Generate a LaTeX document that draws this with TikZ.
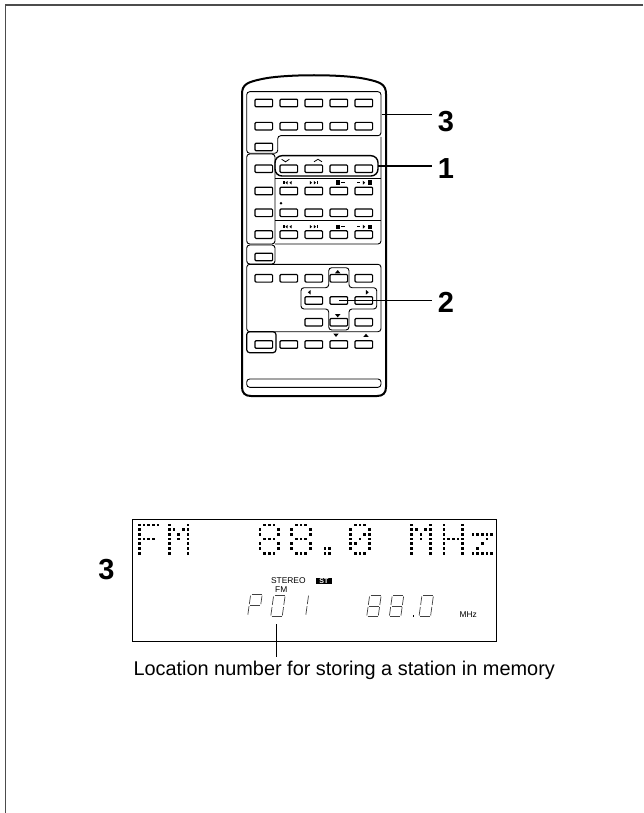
\documentclass[tikz,border=0pt]{standalone}
\usepackage{fontspec}
\setmainfont{Liberation Sans}
\usetikzlibrary{positioning}

\newcommand{\glyphF}{0/{0,1,2,3,4},1/{0},2/{0},3/{0,1,2,3},4/{0},5/{0},6/{0}}
\newcommand{\glyphM}{0/{0,4},1/{0,1,3,4},2/{0,2,4},3/{0,2,4},4/{0,4},5/{0,4},6/{0,4}}
\newcommand{\glyphE}{0/{1,2,3},1/{0,4},2/{0,4},3/{1,2,3},4/{0,4},5/{0,4},6/{1,2,3}}
\newcommand{\glyphO}{0/{1,2,3},1/{0,4},2/{0,3,4},3/{0,2,4},4/{0,1,4},5/{0,4},6/{1,2,3}}
\newcommand{\glyphH}{0/{0,4},1/{0,4},2/{0,4},3/{0,1,2,3,4},4/{0,4},5/{0,4},6/{0,4}}
\newcommand{\glyphZ}{2/{0,1,2,3,4},3/{3},4/{2},5/{1},6/{0,1,2,3,4}}
\newcommand{\glyphP}{5/{0,1},6/{0,1}}
\newcommand{\dotglyph}[2]{
    \foreach \r/\cs in #2 {
        \foreach \c in \cs {
            \fill ({#1+4.7*\c-1.35},{525+4.7*\r-1.35}) rectangle +(2.7,2.7);
        }
    }
}
\newcommand{\segchar}[3]{
    \begin{scope}[shift={(#1,#2)},xslant=0.14,segline]
        \foreach \s in {#3} {\draw \s;}
    \end{scope}
}
\newcommand{\segA}{(1,-21) -- (11,-21)}
\newcommand{\segB}{(11.5,-20) -- (11.5,-11.5)}
\newcommand{\segC}{(11.5,-9.5) -- (11.5,-1)}
\newcommand{\segD}{(1,0) -- (11,0)}
\newcommand{\segE}{(0,-9.5) -- (0,-1)}
\newcommand{\segF}{(0,-20) -- (0,-11.5)}
\newcommand{\segG}{(1,-10.5) -- (11,-10.5)}
\newcommand{\triup}[3]{\fill (#1,#2-#3*0.6) -- (#1+#3,#2+#3*0.6) -- (#1-#3,#2+#3*0.6) -- cycle;}
\newcommand{\tridown}[3]{\fill (#1,#2+#3*0.6) -- (#1+#3,#2-#3*0.6) -- (#1-#3,#2-#3*0.6) -- cycle;}
\newcommand{\trileft}[3]{\fill (#1-#3*0.6,#2) -- (#1+#3*0.6,#2-#3) -- (#1+#3*0.6,#2+#3) -- cycle;}
\newcommand{\triright}[3]{\fill (#1+#3*0.6,#2) -- (#1-#3*0.6,#2-#3) -- (#1-#3*0.6,#2+#3) -- cycle;}
\newcommand{\transport}[1]{
    \fill (283.3,#1-1.7) rectangle +(1.2,3.4);
    \trileft{286.5}{#1}{1.7} \trileft{290.5}{#1}{1.7}
    \triright{311}{#1}{1.7} \triright{315}{#1}{1.7}
    \fill (317,#1-1.7) rectangle +(1.2,3.4);
    \fill (336,#1-2.2) rectangle +(4.4,4.4);
    \draw[line width=0.8] (341,#1) -- (345,#1);
    \draw[line width=0.8] (357,#1) -- (360,#1);
    \triright{364}{#1}{2}
    \fill (367.5,#1-2.2) rectangle +(4.4,4.4);
}

\begin{document}
\begin{tikzpicture}[x=1pt,y=-1pt,
        keybtn/.style = {
            draw,
            rounded corners=1pt,
            line width=1.2pt,
            minimum width=17.6pt,
            minimum height=7.6pt,
            inner sep=0pt
        },
        panel/.style = {draw, line width=0.9pt, rounded corners=3pt},
        segline/.style = {line width=0.7pt, black!75},
        numlabel/.style = {font=\fontsize{29}{29}\bfseries\selectfont, inner sep=6pt, anchor=west},
        leader/.style = {line width=1.3pt}
    ]
    \useasboundingbox (0,0) rectangle (643,813);
    \draw[line width=1.6pt, black!70] (643,5) -- (5.5,5) -- (5.5,813);

    % remote
    \draw[line width=2pt] (242,94) .. controls (242,84) and (248,82) .. (262,79)
        .. controls (285,74) and (343,74) .. (366,79) .. controls (380,82) and (386,84) .. (386,94)
        -- (386,387) .. controls (386,393) and (383,396) .. (377,396) -- (251,396)
        .. controls (245,396) and (242,393) .. (242,387) -- cycle;
    \draw[panel] (246.7,91.7) -- (381,91.7) -- (381,135.7) -- (277.7,135.7) -- (277.7,153.3) -- (246.7,153.3) -- cycle;
    \draw[panel] (246.7,154) rectangle (275,244);
    \draw[panel] (275,244) -- (381,244) -- (381,137);
    \draw[panel] (275,178) -- (381,178);
    \draw[panel] (275,220.7) -- (381,220.7);
    \draw[panel, line width=1.4pt, rounded corners=7pt] (275,155.7) rectangle (378,176);
    \draw[panel] (246.7,245) rectangle (275,264);
    \draw[panel] (246.7,264.3) rectangle (381,331.7);
    \draw[panel, line width=1.2pt] (246.7,331.7) rectangle (276,352.7);
    \draw[panel] (328.7,267.7) -- (349,267.7) -- (349,287.7) -- (376.7,287.7) -- (376.7,309) -- (349,309)
        -- (349,330) -- (328.7,330) -- (328.7,309) -- (301,309) -- (301,287.7) -- (328.7,287.7) -- cycle;
    \draw[panel] (246.7,379) rectangle (381,387.3);

    \foreach \row/\ypos/\cols in {1/103/{1,2,3,4,5},2/126.2/{1,2,3,4,5},3/147/{1},4/168.8/{1,2,3,4,5},
            5/191/{1,2,3,4,5},6/212.8/{1,2,3,4,5},7/234.6/{1,2,3,4,5},8/257/{1},9/278.3/{1,2,3,4,5},
            10/300.5/{3,4,5},11/322.2/{3,4,5},12/344.5/{1,2,3,4,5}} {
        \foreach \col in \cols {
            \node[keybtn] (key\row-\col) at ({238.8+25*\col},\ypos) {};
        }
    }

    \draw[line width=0.8pt] (281.7,159.3) -- (285.5,161.8) -- (289.3,159.3);
    \draw[line width=0.8pt] (314,161.8) -- (318,159.3) -- (322,161.8);
    \transport{182.7}
    \transport{226.7}
    \fill (281,203.3) circle (1.4);
    \triup{337.7}{271.7}{2.8}
    \trileft{309.3}{292.3}{2.4}
    \triright{367.3}{292.3}{2.4}
    \tridown{337.7}{315.7}{2.8}
    \tridown{336}{335.3}{2.6}
    \triup{366}{335.3}{2.6}

    \node[numlabel] (num3) at (431.7,121.5) {3};
    \node[numlabel] (num1) at (431.7,169) {1};
    \node[numlabel] (num2) at (431.7,302.8) {2};
    \coordinate (lead3) at (381.7,114.3);
    \coordinate (lead1) at (378,166);
    \draw[leader] (lead3) -- (lead3 -| num3.west);
    \draw[leader] (lead1) -- (lead1 -| num1.west);
    \draw[leader] (key10-4.center) -- (key10-4.center -| num2.west);

    % display
    \node[draw, line width=1.3pt, minimum width=364pt, minimum height=122.4pt, inner sep=0pt] (display) at (314.7,580.5) {};
    \node[font=\fontsize{29}{29}\bfseries\selectfont, inner sep=0pt] (num3b) at (106.5,570) {3};
    \dotglyph{139.3}{\glyphF}
    \dotglyph{169.3}{\glyphM}
    \dotglyph{260}{\glyphE}
    \dotglyph{291.7}{\glyphE}
    \dotglyph{325}{\glyphP}
    \dotglyph{350.7}{\glyphO}
    \dotglyph{411.7}{\glyphM}
    \dotglyph{444}{\glyphH}
    \dotglyph{473}{\glyphZ}

    \segchar{247.7}{615.7}{\segA,\segB,\segE,\segF,\segG}
    \segchar{270.7}{616.5}{\segA,\segB,\segC,\segD,\segE,\segF}
    \segchar{294.2}{615.7}{\segB,\segC}
    \segchar{366.7}{616.5}{\segA,\segB,\segC,\segD,\segE,\segF,\segG}
    \segchar{389.3}{616.5}{\segA,\segB,\segC,\segD,\segE,\segF,\segG}
    \segchar{419}{616.5}{\segA,\segB,\segC,\segD,\segE,\segF}
    \fill (412.5,615) rectangle +(1.8,1.8);

    \node[font=\fontsize{8.4}{9}\selectfont, inner sep=0pt] (stereo) at (288.3,580.7) {STEREO};
    \node[font=\fontsize{8.4}{9}\selectfont, inner sep=0pt] (fm) at (281.2,589.3) {FM};
    \node[fill=black, text=white, font=\fontsize{7}{7}\bfseries\selectfont, inner sep=0pt,
        minimum width=15.7pt, minimum height=6.8pt] (st) at (323.8,581) {ST};
    \node[font=\fontsize{8.4}{9}\selectfont, inner sep=0pt] (mhz) at (468.2,614.3) {MHz};

    \node[font=\fontsize{19.9}{22}\selectfont, inner sep=0pt, anchor=base west] (caption) at (133.3,675) {Location number for storing a station in memory};
    \coordinate (lead0) at (276,624);
    \draw[line width=0.9pt, shorten >=3pt] (lead0) -- (lead0 |- caption.north);
\end{tikzpicture}
\end{document}
